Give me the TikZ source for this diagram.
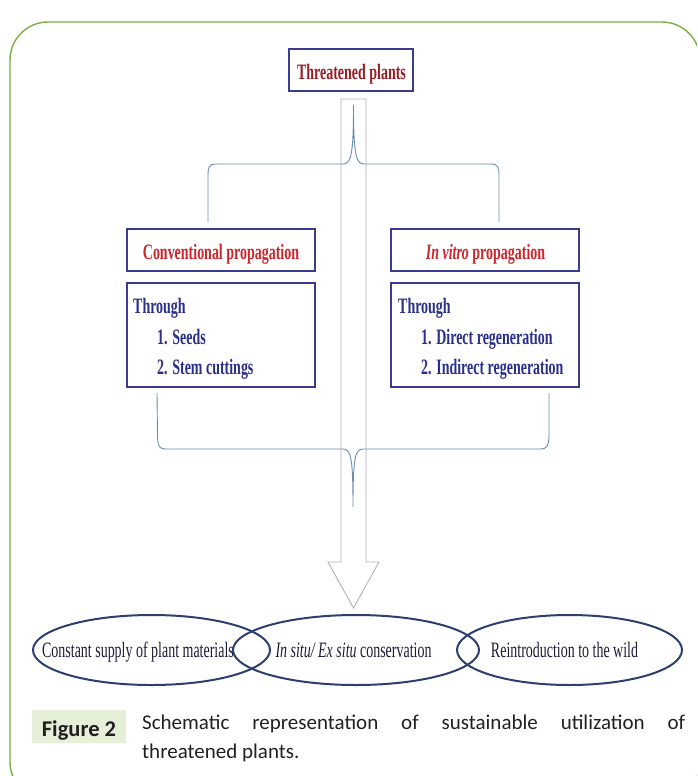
\documentclass[tikz,border=0pt]{standalone}
\usepackage{fontspec}
\usepackage{graphicx}
\usetikzlibrary{shapes.geometric}
\setmainfont{Liberation Serif}
\newfontfamily\capfont{Carlito}
\newcommand\cnd[1]{\scalebox{0.635}[1]{#1}}
\definecolor{frameg}{HTML}{7AAE45}
\definecolor{boxc}{HTML}{3B3B8F}
\definecolor{tpred}{HTML}{9C1C24}
\definecolor{propred}{HTML}{D0242B}
\definecolor{navytxt}{HTML}{2A2F8C}
\definecolor{bracec}{HTML}{6A8CB0}
\definecolor{arrowc}{HTML}{B2B2BA}
\definecolor{ellc}{HTML}{2D3F6E}
\definecolor{elltxt}{HTML}{1C1C3A}
\definecolor{capbg}{HTML}{E6EFD8}
\definecolor{captxt}{HTML}{231F20}
\begin{document}
\begin{tikzpicture}[x=1pt,y=-1pt,
  lbl/.style={inner sep=0pt, anchor=base, font=\fontsize{22}{26}\selectfont},
  lblw/.style={lbl, anchor=base west},
  box/.style={draw=boxc, line width=1.3pt, fill=white, inner sep=0pt, minimum width=188, minimum height=42},
  brace/.style={draw=bracec, line width=0.9pt},
  ell/.style={draw=ellc, ellipse, line width=2pt, inner sep=0pt, minimum height=70}]
\useasboundingbox (0,0) rectangle (697,776);
\begin{scope}
  \clip (0,0) rectangle (697,776);
  \draw[frameg, line width=1.4pt, rounded corners=38pt] (10,22) rectangle (700,800);
\end{scope}

% block arrow
\coordinate (atop) at (353.5,99);
\coordinate (atip) at (353.5,608);
\draw[arrowc, line width=0.9pt, line join=miter]
  (atop) ++(-12.5,0) -- ++(25,0) -- ++(0,463) -- ++(13,0) -- (atip)
  -- ++(-25.5,-46) -- ++(13,0) -- cycle;

% boxes
\node[box, minimum width=124] (tp) at (351,70) {};
\node[lbl, text=tpred] (tpl) at (351.5,79) {\cnd{\bfseries Threatened plants}};

\node[box] (conv) at (221,250) {};
\node[lbl, text=propred] (convl) at (221,259) {\cnd{\bfseries Conventional propagation}};
\node[box] (invi) at (485,250) {};
\node[lbl, text=propred] (invil) at (485.5,259) {\cnd{\bfseries\textit{In vitro} propagation}};

\node[box, minimum height=104] (thl) at (221,335) {};
\node[lblw, text=navytxt] (thl0) at (133,313) {\cnd{\bfseries Through}};
\node[lblw, text=navytxt] (thl1) at (157,344) {\cnd{\bfseries 1. Seeds}};
\node[lblw, text=navytxt] (thl2) at (157,374) {\cnd{\bfseries 2. Stem cuttings}};

\node[box, minimum height=104] (thr) at (485,335) {};
\node[lblw, text=navytxt] (thr0) at (398,313) {\cnd{\bfseries Through}};
\node[lblw, text=navytxt] (thr1) at (421,344) {\cnd{\bfseries 1. Direct regeneration}};
\node[lblw, text=navytxt] (thr2) at (421,374) {\cnd{\bfseries 2. Indirect regeneration}};

% top brace
\coordinate (tbL) at (208,222);
\coordinate (tbR) at (499,222);
\coordinate (tbT) at (353.5,105);
\draw[brace] (tbL) -- (208,176) .. controls (208,167) and (209,164) .. (216,164)
  -- (343,164) .. controls (351,164) and (353.5,155) .. (tbT)
  .. controls (353.5,155) and (356,164) .. (364,164)
  -- (491,164) .. controls (498,164) and (499,167) .. (499,176) -- (tbR);

% bottom brace
\coordinate (bbL) at (157,393);
\coordinate (bbR) at (549,393);
\coordinate (bbT) at (353,507);
\draw[brace] (bbL) -- (157.5,437) .. controls (158,446) and (159,449) .. (166,449)
  -- (343,449) .. controls (351,449) and (353,458) .. (bbT)
  .. controls (353,458) and (355,449) .. (363,449)
  -- (540,449) .. controls (547,449) and (548.5,446) .. (549,437) -- (bbR);

% ellipses
\node[ell, minimum width=237] (e1) at (151.5,650) {};
\node[ell, minimum width=246] (e2) at (356,650) {};
\node[ell, minimum width=225] (e3) at (569.5,650) {};
\node[lbl, text=elltxt] (e1l) at (138,657) {\cnd{Constant supply of plant materials}};
\node[lbl, text=elltxt] (e2l) at (353.5,657) {\cnd{\textit{In situ/ Ex situ} conservation}};
\node[lbl, text=elltxt] (e3l) at (564.5,657) {\cnd{Reintroduction to the wild}};

% caption
\fill[capbg] (32,710) rectangle (126,743);
\node[inner sep=0pt, anchor=base, text=captxt, font=\capfont\bfseries\fontsize{22.5}{27}\selectfont] (fig) at (79,736) {Figure 2};
\node[inner sep=0pt, anchor=base west, text width=543pt, align=justify, text=captxt,
  font=\capfont\fontsize{21}{29}\selectfont] (cap) at (142,729)
  {Schematic representation of sustainable utilization of\linebreak threatened plants.};
\end{tikzpicture}
\end{document}
